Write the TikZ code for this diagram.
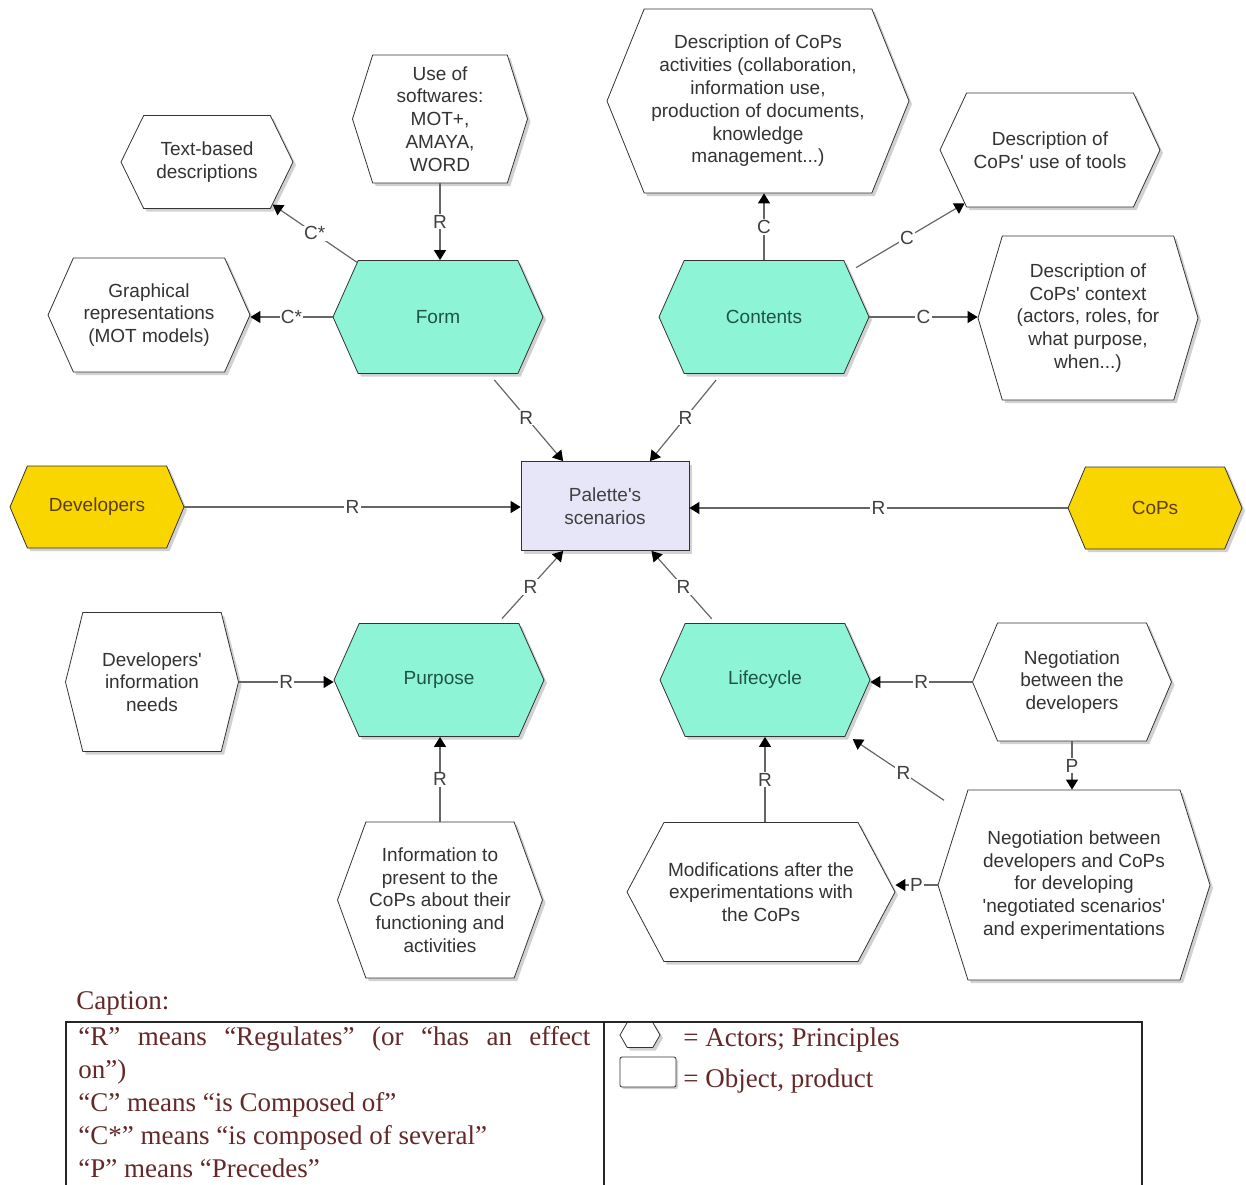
\documentclass[tikz,border=0pt]{standalone}
\usepackage{fontspec}
\setmainfont{Liberation Sans}
\newfontfamily\capfont{Liberation Serif}
\usetikzlibrary{arrows.meta, positioning, shapes.symbols, shadows}
\definecolor{myaqua}{RGB}{142,244,214}
\definecolor{mygold}{RGB}{250,214,0}
\definecolor{mylavender}{RGB}{230,230,248}
\definecolor{myteal}{RGB}{30,84,66}
\definecolor{mybrown}{RGB}{92,62,20}
\definecolor{mymaroon}{RGB}{100,40,40}
\tikzset{
  hexbox/.style={shape=signal, signal to=east and west, signal pointer angle=132,
    draw=black!80, fill=white, text=black!80, align=center, inner sep=1pt,
    font=\fontsize{9.5}{11.4}\selectfont,
    drop shadow={shadow xshift=1.5pt, shadow yshift=-1.5pt, opacity=1, fill=black!18}},
  aspect/.style={hexbox, fill=myaqua, text=myteal, minimum width=105pt, minimum height=56.5pt},
  actor/.style={hexbox, fill=mygold, text=mybrown, minimum width=87pt, minimum height=41pt, signal pointer angle=134},
  scenbox/.style={draw=black!80, fill=mylavender, text=black!75, align=center,
    font=\fontsize{9.5}{11.4}\selectfont, minimum width=84pt, minimum height=44.5pt,
    drop shadow={shadow xshift=1.5pt, shadow yshift=-1.5pt, opacity=1, fill=black!18}},
  conn/.style={draw=black!60, line width=0.6pt, -{Triangle[length=5pt,width=6pt,color=black]}},
  lbl/.style={fill=white, inner sep=0.6pt, font=\fontsize{9.5}{11}\selectfont, text=black!75},
  captext/.style={font=\capfont\fontsize{13.5}{16.5}\selectfont, text=mymaroon}
}
\newcommand{\apos}{\XeTeXglyph\XeTeXcharglyph"0027\relax}
\begin{document}
\begin{tikzpicture}[x=0.5pt, y=-0.5pt]
  \useasboundingbox (0,0) rectangle (1246,1184);

  % aspects of the scenarios
  \node[aspect] (form) at (438,317) {Form};
  \node[aspect] (contents) at (764,317) {Contents};
  \node[aspect] (purpose) at (439,680) {Purpose};
  \node[aspect] (lifecycle) at (765,680) {Lifecycle};

  % object and actors
  \node[scenbox] (palette) at (605,506) {Palette\apos s\\scenarios};
  \node[actor] (developers) at (97,507) {Developers};
  \node[actor] (cops) at (1155,508) {CoPs};

  % principles around Form
  \node[hexbox, minimum width=86pt, minimum height=46.5pt, signal pointer angle=128] (textdesc) at (207,162) {Text-based\\descriptions};
  \node[hexbox, minimum width=101pt, minimum height=57pt] (graphrep) at (149,315) {Graphical\\representations\\(MOT models)};
  \node[hexbox, minimum width=87.5pt, minimum height=64pt, signal pointer angle=145] (software) at (440,119) {Use of\\softwares:\\MOT+,\\AMAYA,\\WORD};

  % principles around Contents
  \node[hexbox, minimum width=151pt, minimum height=92pt, signal pointer angle=136] (activities) at (758,101) {Description of CoPs\\activities (collaboration,\\information use,\\production of documents,\\knowledge\\management...)};
  \node[hexbox, minimum width=110pt, minimum height=57pt, signal pointer angle=130] (tools) at (1050,150) {Description of\\CoPs\apos\ use of tools};
  \node[hexbox, minimum width=110pt, minimum height=82pt, signal pointer angle=147] (context) at (1088,318) {Description of\\CoPs\apos\ context\\(actors, roles, for\\what purpose,\\when...)};

  % principles around Purpose and Lifecycle
  \node[hexbox, minimum width=86.5pt, minimum height=69.5pt, signal pointer angle=152] (devneeds) at (152,682) {Developers\apos\\information\\needs};
  \node[hexbox, minimum width=102.5pt, minimum height=78pt, signal pointer angle=140] (infopresent) at (440,900) {Information to\\present to the\\CoPs about their\\functioning and\\activities};
  \node[hexbox, minimum width=134pt, minimum height=69.5pt, signal pointer angle=124] (modif) at (761,892) {Modifications after the\\experimentations with\\the CoPs};
  \node[hexbox, minimum width=99.5pt, minimum height=59pt, signal pointer angle=134] (negdev) at (1072,682) {Negotiation\\between the\\developers};
  \node[hexbox, minimum width=136pt, minimum height=95pt, signal pointer angle=145] (negcops) at (1074,885) {Negotiation between\\developers and CoPs\\for developing\\\apos negotiated scenarios\apos\\and experimentations};

  % connectors
  \draw[conn] (software.south) -- node[lbl]{R} (software.south |- form.north);
  \draw[conn] (form.146) -- node[lbl]{C*} (textdesc.-33);
  \draw[conn] (form.west) -- node[lbl]{C*} (form.west -| graphrep.east);
  \draw[conn, shorten <=4pt] (form.-48) -- node[lbl]{R} (palette.133);
  \draw[conn, shorten <=4pt] (contents.-127) -- node[lbl]{R} (palette.45);
  \draw[conn] (contents.north) -- node[lbl]{C} (contents.north |- activities.south);
  \draw[conn, shorten <=4pt] (contents.28) -- node[lbl]{C} (tools.212);
  \draw[conn] (contents.east) -- node[lbl]{C} (contents.east -| context.west);
  \draw[conn] (developers.east) -- node[lbl]{R} (developers.east -| palette.west);
  \draw[conn] (cops.west) -- node[lbl]{R} (cops.west -| palette.east);
  \draw[conn, shorten <=3pt] (purpose.44) -- node[lbl]{R} (palette.-133);
  \draw[conn, shorten <=3pt] (lifecycle.131) -- node[lbl]{R} (palette.-44);
  \draw[conn] (devneeds.east) -- node[lbl]{R} (devneeds.east -| purpose.west);
  \draw[conn] (infopresent.north) -- node[lbl]{R} (infopresent.north |- purpose.south);
  \draw[conn] (lifecycle.south |- modif.north) -- node[lbl]{R} (lifecycle.south);
  \draw[conn] (negdev.west) -- node[lbl]{R} (negdev.west -| lifecycle.east);
  \draw[conn] (negdev.south) -- node[lbl]{P} (negdev.south |- negcops.north);
  \draw[conn, shorten <=10pt, shorten >=4pt] (negcops.147) -- node[lbl]{R} (lifecycle.-34);
  \draw[conn] (negcops.west) -- node[lbl]{P} (negcops.west -| modif.east);

  % caption
  \node[captext, anchor=south west, inner sep=0pt] (captitle) at (76,1016) {Caption:};
  \draw[black!85, line width=0.8pt] (66,1190) -- (66,1022) -- (1142,1022) -- (1142,1190);
  \draw[black!85, line width=0.8pt] (604,1022) -- (604,1190);
  \node[captext, anchor=north west, inner sep=0pt, text width=256pt, align=justify] (legend) at (78,1026)
    {“R” means “Regulates” (or “has an effect\linebreak on”)\\
     “C” means “is Composed of”\\
     “C*” means “is composed of several”\\
     “P” means “Precedes”};
  \node[hexbox, minimum width=20pt, minimum height=12.5pt, signal pointer angle=120] (hexicon) at (640,1035) {};
  \node[draw=black!80, fill=white, minimum width=28pt, minimum height=15pt, rounded corners=1pt,
    drop shadow={shadow xshift=1pt, shadow yshift=-1pt, opacity=1, fill=black!18}] (recticon) at (648,1072) {};
  \node[captext, anchor=west, inner sep=0pt] (actorkey) at (683,1040) {= Actors; Principles};
  \node[captext, anchor=west, inner sep=0pt] (objectkey) at (683,1081) {= Object, product};
\end{tikzpicture}
\end{document}
